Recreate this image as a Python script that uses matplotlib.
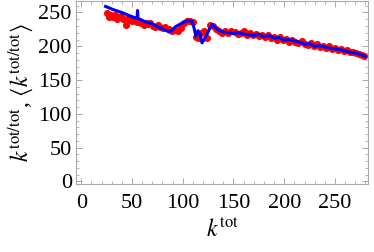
import matplotlib.pyplot as plt
from matplotlib.ticker import MultipleLocator

plt.rcParams['font.family'] = 'Liberation Serif'
plt.rcParams['mathtext.fontset'] = 'stix'

# red points: k^{tot/tot}
k_pts = [25, 27, 29, 31, 33, 35, 37, 39, 41, 44, 46, 48, 50, 52, 55, 57, 59, 62, 64,
         66, 68, 71, 73, 76, 78, 81, 83, 86, 89, 92, 95, 98, 101, 104, 107, 110, 113,
         115, 118, 121, 124, 127, 130, 133, 136, 139, 142, 145, 148, 151, 154, 157, 160,
         163, 166, 169, 172, 175, 178, 181, 184, 187, 190, 193, 196, 199, 202, 205, 208,
         211, 214, 217, 220, 223, 226, 229, 232, 235, 238, 241, 244, 247, 250, 253, 256,
         259, 262, 265, 268, 271, 274, 277, 279]
v_pts = [249, 244, 246, 243, 247, 241, 244, 245, 240, 232, 242, 239, 237, 240, 236, 238, 235, 231, 234,
         233, 235, 230, 228, 231, 229, 227, 228, 225, 222, 224, 222, 227, 235, 238, 237, 236, 213,
         212, 220, 222, 212, 231, 230, 225, 222, 220, 222, 219, 223, 221, 218, 220, 222,
         217, 219, 216, 218, 215, 217, 213, 216, 212, 214, 210, 213, 209, 211, 206, 210,
         207, 205, 208, 204, 202, 205, 200, 203, 199, 201, 197, 200, 196, 198, 195, 196,
         193, 194, 191, 192, 190, 189, 187, 186]

# blue line: <k^{tot/tot}>
k_avg = [24, 32, 40, 48, 55, 55.5, 56, 62, 70, 78, 87, 93, 100, 105, 109, 111, 113, 115, 117,
         119, 124, 127, 129, 135, 140, 145, 150, 155, 160, 165, 170, 175, 180, 185, 190, 195,
         200, 205, 210, 215, 220, 225, 230, 235, 240, 245, 250, 255, 260, 265, 270, 275, 280]
v_avg = [259, 254, 250, 245, 241, 253, 241, 237, 233, 227, 221, 229, 235, 238, 237, 228, 215, 223, 218,
         205, 218, 228, 232, 224, 221, 220, 219, 220, 218, 217, 216, 218, 214, 216, 212, 213,
         209, 210, 208, 206, 203, 204, 200, 201, 199, 197, 196, 195, 193, 191, 190, 188, 185]

fig = plt.figure(figsize=(3.74, 2.52), dpi=100)
ax = fig.add_axes([0.203, 0.268, 0.781, 0.728])

ax.scatter(k_pts, v_pts, s=26, color=(1, 0, 0), lw=0, zorder=2)
ax.plot(k_avg, v_avg, color=(0, 0, 1), lw=2.2, zorder=3)

ax.set_xlim(-5.2, 282.5)
ax.set_ylim(-4.5, 267)
ax.xaxis.set_major_locator(MultipleLocator(50))
ax.xaxis.set_minor_locator(MultipleLocator(10))
ax.yaxis.set_major_locator(MultipleLocator(50))
ax.yaxis.set_minor_locator(MultipleLocator(10))
ax.tick_params(which='both', direction='in', top=True, right=True, color='#999999',
               labelsize=16)
ax.tick_params(axis='x', pad=7)
ax.tick_params(axis='y', pad=3)
ax.tick_params(which='major', length=4, width=0.6)
ax.tick_params(which='minor', length=2, width=0.5)
for s in ax.spines.values():
    s.set_color('#aaaaaa')
    s.set_linewidth(0.8)

ax.set_xlabel(r'$k^{\rm tot}$', fontsize=17, labelpad=4)
ax.set_ylabel(r'$k^{\rm tot/tot}$, $\langle k^{\rm tot/tot}\rangle$', fontsize=17, labelpad=2)

fig.savefig('out.png', dpi=100)
